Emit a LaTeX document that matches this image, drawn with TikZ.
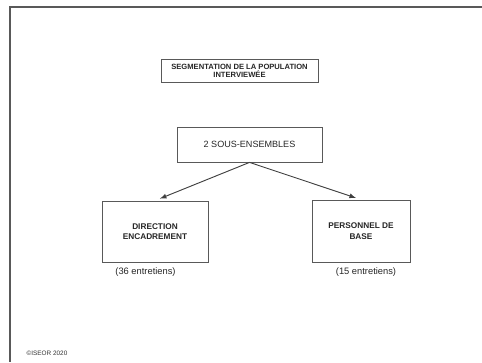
\documentclass[tikz,border=0pt]{standalone}
\usepackage{fontspec}
\setmainfont{Liberation Sans}
\usepackage{tikz}
\usetikzlibrary{arrows,positioning}
\tikzset{>=latex}
\tikzset{
  box/.style={draw=black!65, line width=0.6pt, inner sep=0pt, align=center, text=black!85},
  small/.style={font=\fontsize{7}{8}\selectfont, text=black!85}
}

\begin{document}
\begin{tikzpicture}[x=0.75pt,y=-0.75pt]
      \useasboundingbox (0,0) rectangle (482,362);
        % frame of the slide
        \draw[line width=1.4pt, black!65] (482,7) -- (10,7) -- (10,362);
        \node[box, minimum width=157*0.75pt, minimum height=23*0.75pt,
              font=\fontsize{5.7}{6.2}\selectfont\bfseries] at (239.5,70.5) (title)
        {SEGMENTATION DE LA POPULATION\\INTERVIEW\'EE};
        \node[box, minimum width=145*0.75pt, minimum height=35*0.75pt,
              font=\fontsize{6.8}{7.5}\selectfont] at (249.5,144.5) (subsets)
        {2 SOUS-ENSEMBLES};
        \node[box, minimum width=106*0.75pt, minimum height=61*0.75pt,
              font=\fontsize{6.2}{7.8}\selectfont\bfseries] at (155,231.5) (direction)
        {DIRECTION\\ENCADREMENT};
        \node[box, minimum width=98*0.75pt, minimum height=62*0.75pt,
              font=\fontsize{6.2}{7.8}\selectfont\bfseries] at (361,231) (personnel)
        {PERSONNEL DE\\BASE};
        \node[small] at (145.5,272) (countdir) {(36 entretiens)};
        \node[small] at (366,272) (countpers) {(15 entretiens)};
        \node[font=\fontsize{4.8}{5.5}\selectfont, text=black!80] at (47,353) (copy)
        {\textcopyright ISEOR 2020};
        \draw[->, black!75, line width=0.7pt, shorten >=4pt] (subsets.south) to (direction.north);
        \draw[->, black!75, line width=0.7pt, shorten >=4pt] (subsets.south) to (personnel.north);
      \end{tikzpicture}
\end{document}
